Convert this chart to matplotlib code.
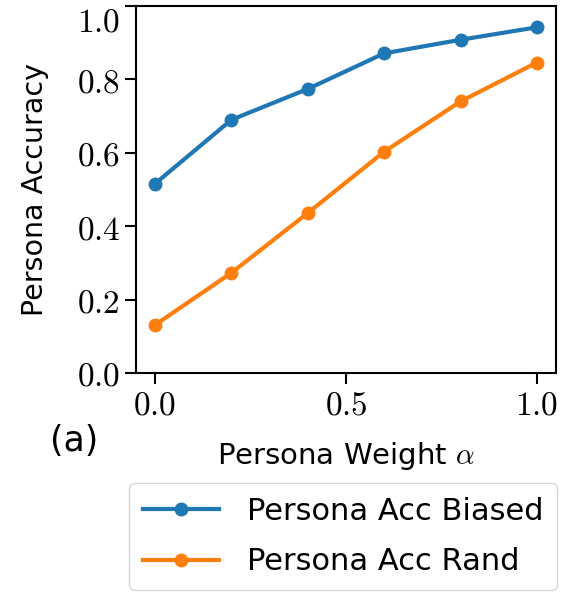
import matplotlib
matplotlib.use("Agg")
import matplotlib.pyplot as plt
from matplotlib.ticker import FuncFormatter

alpha = [0.0, 0.2, 0.4, 0.6, 0.8, 1.0]
acc_biased = [0.516, 0.690, 0.774, 0.871, 0.908, 0.942]
acc_rand = [0.131, 0.273, 0.436, 0.603, 0.740, 0.846]

plt.rcParams['mathtext.fontset'] = 'cm'
plt.rcParams['font.family'] = 'DejaVu Sans'

fig = plt.figure(figsize=(5.62, 5.94), dpi=100)
ax = fig.add_axes([136/562, 1 - 373/594, 420/562, 367/594])

ax.plot(alpha, acc_biased, '-o', color='#1f77b4', lw=3, ms=9, label='Persona Acc Biased')
ax.plot(alpha, acc_rand, '-o', color='#ff7f0e', lw=3, ms=9, label='Persona Acc Rand')

ax.set_ylim(0, 1.0)
ax.set_xlim(-0.05, 1.05)
ax.set_xticks([0.0, 0.5, 1.0])
ax.set_yticks([0.0, 0.2, 0.4, 0.6, 0.8, 1.0])
fmt = FuncFormatter(lambda v, p: r'$%.1f$' % v)
ax.xaxis.set_major_formatter(fmt)
ax.yaxis.set_major_formatter(fmt)
ax.tick_params(labelsize=24, length=8, width=1.5)
for s in ax.spines.values():
    s.set_linewidth(1.5)
# top label sits a bit lower in the original
ax.get_yticklabels()[-1].set_va('top')

ax.set_xlabel(r'Persona Weight $\alpha$', fontsize=21, labelpad=13)
ax.set_ylabel('Persona Accuracy', fontsize=20.5, labelpad=20)

fig.text(50/562, 1 - 441/594, '(a)', fontsize=25, va='center', ha='left')

fig.legend(loc='lower right', bbox_to_anchor=(557/562, 4/594), fontsize=22,
           borderaxespad=0, handlelength=2.5, handletextpad=0.9, borderpad=0.45,
           labelspacing=0.7, edgecolor='#cccccc', fancybox=True)

fig.savefig('out.png', dpi=100)
